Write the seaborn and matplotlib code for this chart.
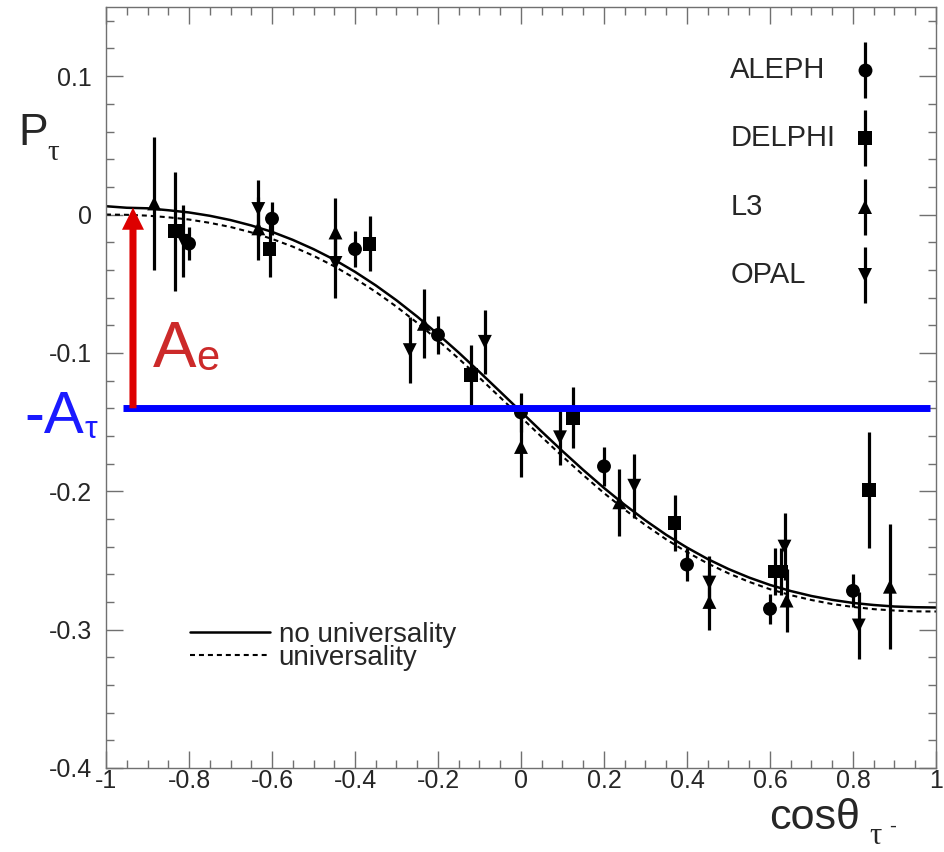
import numpy as np
import pandas as pd
import seaborn as sns
import matplotlib
matplotlib.use("Agg")
import matplotlib.pyplot as plt
from matplotlib.lines import Line2D
from matplotlib.ticker import MultipleLocator

# measured tau polarisation per experiment
aleph_cos = [-0.80, -0.60, -0.40, -0.20, 0.00, 0.20, 0.40, 0.60, 0.80]
aleph_p = [-0.021, -0.003, -0.025, -0.087, -0.143, -0.182, -0.253, -0.285, -0.272]
aleph_err = [0.012, 0.012, 0.013, 0.014, 0.014, 0.014, 0.012, 0.011, 0.012]

delphi_cos = [-0.833, -0.606, -0.365, -0.121, 0.126, 0.370, 0.611, 0.626, 0.838]
delphi_p = [-0.012, -0.025, -0.021, -0.116, -0.147, -0.223, -0.258, -0.258, -0.199]
delphi_err = [0.043, 0.020, 0.020, 0.022, 0.022, 0.020, 0.017, 0.017, 0.042]

l3_cos = [-0.884, -0.633, -0.447, -0.234, 0.000, 0.237, 0.454, 0.640, 0.889]
l3_p = [0.008, -0.010, -0.013, -0.079, -0.168, -0.208, -0.280, -0.279, -0.269]
l3_err = [0.048, 0.023, 0.025, 0.025, 0.022, 0.024, 0.020, 0.023, 0.045]

opal_cos = [-0.814, -0.633, -0.447, -0.268, -0.087, 0.094, 0.273, 0.454, 0.635, 0.814]
opal_p = [-0.019, 0.004, -0.035, -0.098, -0.092, -0.161, -0.196, -0.266, -0.240, -0.297]
opal_err = [0.026, 0.021, 0.025, 0.024, 0.023, 0.020, 0.023, 0.019, 0.024, 0.024]

# fitted curves, every 0.05 in cos(theta)
curve_cos = [-1.0, -0.95, -0.9, -0.85, -0.8, -0.75, -0.7, -0.65, -0.6, -0.55, -0.5,
             -0.45, -0.4, -0.35, -0.3, -0.25, -0.2, -0.15, -0.1, -0.05, 0.0,
             0.05, 0.1, 0.15, 0.2, 0.25, 0.3, 0.35, 0.4, 0.45, 0.5,
             0.55, 0.6, 0.65, 0.7, 0.75, 0.8, 0.85, 0.9, 0.95, 1.0]
p_no_univ = [0.006, 0.0049, 0.0045, 0.0031, 0.0015, -0.0009, -0.004, -0.0079, -0.0125, -0.0183, -0.025,
             -0.0326, -0.0414, -0.0512, -0.062, -0.0738, -0.0865, -0.0998, -0.1138, -0.1281, -0.1425,
             -0.1569, -0.171, -0.1846, -0.1976, -0.2098, -0.2211, -0.2315, -0.2407, -0.249, -0.2562,
             -0.2624, -0.2677, -0.2721, -0.2757, -0.2785, -0.2807, -0.2822, -0.2833, -0.2838, -0.284]
p_univ = [0.0, -0.0002, -0.0008, -0.002, -0.0036, -0.006, -0.009, -0.0129, -0.0176, -0.0232, -0.0298,
          -0.0374, -0.0462, -0.0559, -0.0666, -0.0783, -0.0909, -0.1042, -0.118, -0.1322, -0.1465,
          -0.1608, -0.1748, -0.1883, -0.2013, -0.2133, -0.2245, -0.2348, -0.244, -0.2522, -0.2593,
          -0.2655, -0.2708, -0.2751, -0.2786, -0.2815, -0.2836, -0.2852, -0.2862, -0.2868, -0.2869]

minus_a_tau = -0.14
arrow_cos = -0.935

x_ticks = [-1, -0.8, -0.6, -0.4, -0.2, 0, 0.2, 0.4, 0.6, 0.8, 1]
x_ticklabels = ["-1", "-0.8", "-0.6", "-0.4", "-0.2", "0", "0.2", "0.4", "0.6", "0.8", "1"]
y_ticks = [-0.4, -0.3, -0.2, -0.1, 0, 0.1]
y_ticklabels = ["-0.4", "-0.3", "-0.2", "-0.1", "0", "0.1"]

experiments = ["ALEPH", "DELPHI", "L3", "OPAL"]
exp_markers = {"ALEPH": "o", "DELPHI": "s", "L3": "^", "OPAL": "v"}

sns.set_theme(style="ticks")
plt.rcParams["font.family"] = ["Liberation Sans", "DejaVu Sans"]
plt.rcParams["axes.unicode_minus"] = False

pts = pd.concat([
    pd.DataFrame({"cos": aleph_cos, "P": aleph_p, "err": aleph_err, "exp": "ALEPH"}),
    pd.DataFrame({"cos": delphi_cos, "P": delphi_p, "err": delphi_err, "exp": "DELPHI"}),
    pd.DataFrame({"cos": l3_cos, "P": l3_p, "err": l3_err, "exp": "L3"}),
    pd.DataFrame({"cos": opal_cos, "P": opal_p, "err": opal_err, "exp": "OPAL"}),
], ignore_index=True)

curves = pd.concat([
    pd.DataFrame({"cos": curve_cos, "P": p_no_univ, "model": "no universality"}),
    pd.DataFrame({"cos": curve_cos, "P": p_univ, "model": "universality"}),
], ignore_index=True)

fig = plt.figure(figsize=(9.44, 8.52), dpi=100)
ax = fig.add_axes([0.1123, 0.0986, 0.8792, 0.8932])

sns.lineplot(data=curves, x="cos", y="P", style="model",
             dashes={"no universality": "", "universality": (2.4, 1.9)},
             color="black", linewidth=1.8, legend=False, ax=ax, zorder=2)
# thinner dashed line
ax.lines[1].set_linewidth(1.5)

ax.errorbar(pts["cos"], pts["P"], yerr=pts["err"], fmt="none", ecolor="black",
            elinewidth=2.3, capsize=0, zorder=3)
sns.scatterplot(data=pts, x="cos", y="P", style="exp", markers=exp_markers,
                color="black", s=100, edgecolor="none", legend=False, ax=ax, zorder=4)

# -A_tau line and A_e arrow
ax.hlines(minus_a_tau, -0.96, 0.985, color="#0000ff", linewidth=5, zorder=6)
ax.arrow(arrow_cos, minus_a_tau, 0, 0.145, width=0.017, head_width=0.053,
         head_length=0.016, length_includes_head=True, color="#dd0000",
         linewidth=0, zorder=7)

ax.set_xlim(-1, 1)
ax.set_ylim(-0.4, 0.15)
ax.set_xticks(x_ticks)
ax.set_xticklabels(x_ticklabels)
ax.set_yticks(y_ticks)
ax.set_yticklabels(y_ticklabels)
ax.xaxis.set_minor_locator(MultipleLocator(0.05))
ax.yaxis.set_minor_locator(MultipleLocator(0.02))
ax.tick_params(which="both", direction="in", top=True, right=True,
               color="#707070", width=1)
ax.tick_params(which="major", length=12)
ax.tick_params(which="minor", length=6)
ax.tick_params(axis="y", labelsize=18, pad=10)
ax.tick_params(axis="x", labelsize=18, pad=1)
for sp in ax.spines.values():
    sp.set_color("#707070")
    sp.set_linewidth(1)
ax.set_xlabel("")
ax.set_ylabel("")

# experiment key, ROOT style: text left, marker with bar on the right
key_rows = [0.917, 0.828, 0.737, 0.648]
for name, yk in zip(experiments, key_rows):
    ax.text(0.752, yk, name, transform=ax.transAxes, fontsize=21, va="center", ha="left")
    ax.errorbar([0.9145], [yk], yerr=[0.037], fmt=exp_markers[name], color="black",
                ms=10, mew=0, elinewidth=2.3, capsize=0, transform=ax.transAxes,
                clip_on=False)

# curve legend
handles = [Line2D([], [], color="black", lw=1.8),
           Line2D([], [], color="black", lw=1.5, dashes=(2.4, 1.9))]
ax.legend(handles, ["no universality", "universality"], loc="lower left",
          bbox_to_anchor=(0.101, 0.128), fontsize=20, handlelength=2.9,
          handletextpad=0.3, labelspacing=-0.12, frameon=False,
          borderpad=0, borderaxespad=0)

# axis titles
fig.text(0.019, 0.8298, "P", fontsize=32, va="baseline")
fig.text(0.050, 0.812, "τ", fontsize=21, va="baseline", family="Liberation Serif")
fig.text(0.815, 0.027, "cosθ", fontsize=31, va="baseline")
fig.text(0.921, 0.0095, "τ", fontsize=22, va="baseline", family="Liberation Serif")
fig.text(0.942, 0.0235, "-", fontsize=15, va="baseline")

# annotations
fig.text(0.162, 0.5692, "A", fontsize=47, va="baseline", color="#cc2a2a")
fig.text(0.208, 0.5657, "e", fontsize=30, va="baseline", color="#cc2a2a")
fig.text(0.026, 0.4918, "-A", fontsize=43, va="baseline", color="#1a1aff")
fig.text(0.090, 0.486, "τ", fontsize=23, va="baseline", color="#1a1aff")

fig.savefig("out.png", dpi=100)
